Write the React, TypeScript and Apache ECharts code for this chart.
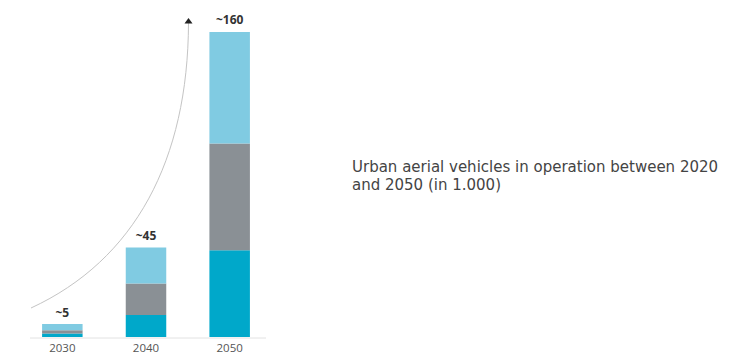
import React, { useEffect, useRef } from "react";
import * as echarts from "echarts";

const categories = ["2030", "2040", "2050"];
const tealValues = [1.8, 11.5, 45.5];
const grayValues = [1.8, 16.5, 56];
const lightValues = [3.2, 19, 58.5];
const totalLabels = ["~5", "~45", "~160"];
const title = "Urban aerial vehicles in operation between 2020\nand 2050 (in 1.000)";

export default function App() {
  const ref = useRef<HTMLDivElement>(null);
  useEffect(() => {
    if (!ref.current) return;
    const chart = echarts.init(ref.current, undefined, { renderer: "svg" });
    const font = "'Open Sans', Lato, sans-serif";
    chart.setOption({
      animation: false,
      textStyle: { fontFamily: font },
      grid: { left: 20.5, width: 251, top: 20.5, bottom: 15, containLabel: false },
      xAxis: {
        type: "category",
        data: categories,
        axisLine: { show: false },
        axisTick: { show: false },
        axisLabel: { color: "#555", fontSize: 11.5, margin: 4, fontFamily: font },
      },
      yAxis: { type: "value", min: 0, max: 166, show: false, splitLine: { show: false } },
      series: [
        { type: "bar", stack: "t", data: tealValues, barWidth: 40.5, itemStyle: { color: "#00a8ca" } },
        { type: "bar", stack: "t", data: grayValues, barWidth: 40.5, itemStyle: { color: "#8a9095" } },
        {
          type: "bar",
          stack: "t",
          data: lightValues,
          barWidth: 40.5,
          itemStyle: { color: "#80cbe2" },
          label: {
            show: true,
            position: "top",
            distance: 6,
            formatter: (p: any) => totalLabels[p.dataIndex],
            color: "#333",
            fontWeight: "bold",
            fontSize: 12,
            fontFamily: font,
          },
        },
      ],
      graphic: [
        {
          type: "line",
          shape: { x1: 30, y1: 338, x2: 266, y2: 338 },
          style: { stroke: "#e2e2e2", lineWidth: 1 },
          z: 0,
        },
        {
          type: "bezierCurve",
          shape: { x1: 31, y1: 308, cpx1: 135, cpy1: 260, cpx2: 188, cpy2: 160, x2: 188.5, y2: 23 },
          style: { stroke: "#c4c4c4", lineWidth: 1, fill: null },
        },
        {
          type: "polygon",
          shape: { points: [[188.5, 18], [184.5, 23.5], [192.5, 23.5]] },
          style: { fill: "#222" },
        },
        {
          type: "text",
          left: 352,
          top: 158,
          style: { text: title, fill: "#444", fontSize: 15, lineHeight: 18, fontFamily: "'DejaVu Sans', sans-serif" },
        },
      ],
    });
    return () => chart.dispose();
  }, []);
  return <div ref={ref} style={{ width: 746, height: 353, position: "absolute", left: 0, top: 0, background: "#fff" }} />;
}
